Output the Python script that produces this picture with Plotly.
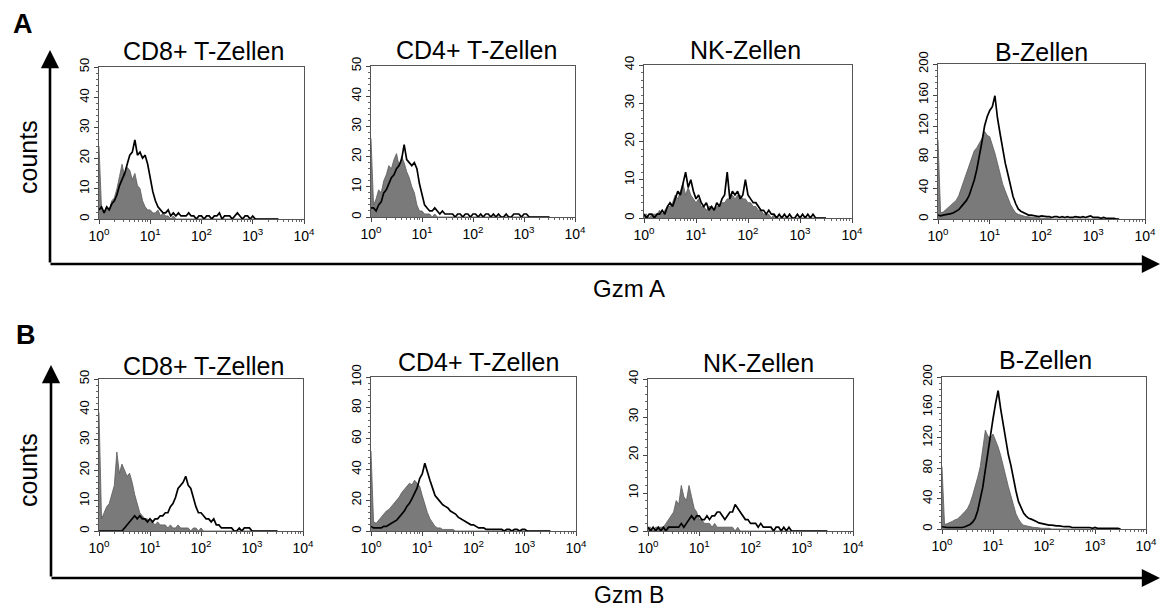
import plotly.graph_objects as go

W, H = 1162, 609

# ---------------- data ----------------
LOG_BINS = [0.00, 0.05, 0.10, 0.15, 0.20, 0.25, 0.30, 0.35, 0.40, 0.45,
            0.50, 0.55, 0.60, 0.65, 0.70, 0.75, 0.80, 0.85, 0.90, 0.95,
            1.00, 1.05, 1.10, 1.15, 1.20, 1.25, 1.30, 1.35, 1.40, 1.45,
            1.50, 1.55, 1.60, 1.65, 1.70, 1.75, 1.80, 1.85, 1.90, 1.95,
            2.00, 2.05, 2.10, 2.15, 2.20, 2.25, 2.30, 2.35, 2.40, 2.45,
            2.50, 2.55, 2.60, 2.65, 2.70, 2.75, 2.80, 2.85, 2.90, 2.95,
            3.00, 3.05, 3.10, 3.15, 3.20, 3.25, 3.30, 3.35, 3.40, 3.45,
            3.50]

TITLES = ["CD8+ T-Zellen", "CD4+ T-Zellen", "NK-Zellen", "B-Zellen",
          "CD8+ T-Zellen", "CD4+ T-Zellen", "NK-Zellen", "B-Zellen"]
Y_MAX = [50, 50, 40, 200, 50, 100, 40, 200]
Y_STEP = [10, 10, 10, 40, 10, 20, 10, 40]
X_TICKVALS = [1, 10, 100, 1000, 10000]
X_TICKTEXT = ["10<sup>0</sup>", "10<sup>1</sup>", "10<sup>2</sup>", "10<sup>3</sup>", "10<sup>4</sup>"]

# Gzm A - control (grey filled)
A_CD8_CTRL = [24, 3, 2, 4, 3, 6, 7, 10, 14, 18,
              14, 17, 16, 13, 15, 11, 10, 6, 4, 3,
              3, 2, 2, 3, 1, 2, 1, 1, 0, 1,
              0, 0, 0, 0, 0, 0, 0, 0, 0, 0,
              0, 0, 0, 0, 0, 0, 0, 0, 0, 0,
              0, 0, 0, 0, 0, 0, 0, 0, 0, 0,
              0, 0, 0, 0, 0, 0, 0, 0, 0, 0,
              0]
A_CD8_GZM = [3, 4, 2, 4, 3, 5, 6, 8, 11, 13,
             15, 18, 21, 22, 26, 21, 22, 20, 21, 18,
             13, 9, 6, 4, 3, 2, 2, 3, 1, 2,
             1, 2, 1, 1, 1, 2, 1, 1, 0, 1,
             1, 0, 1, 1, 0, 1, 1, 2, 0, 1,
             1, 1, 0, 1, 2, 1, 0, 1, 1, 0,
             1, 0, 0, 0, 0, 0, 0, 0, 0, 0,
             0]
A_CD4_CTRL = [26, 4, 6, 9, 8, 12, 14, 17, 16, 19,
              21, 17, 20, 18, 15, 13, 10, 8, 4, 2,
              2, 1, 1, 1, 0, 1, 0, 0, 0, 0,
              0, 0, 0, 0, 0, 0, 0, 0, 0, 0,
              0, 0, 0, 0, 0, 0, 0, 0, 0, 0,
              0, 0, 0, 0, 0, 0, 0, 0, 0, 0,
              0, 0, 0, 0, 0, 0, 0, 0, 0, 0,
              0]
A_CD4_GZM = [3, 3, 2, 4, 5, 8, 9, 11, 13, 14,
             16, 17, 19, 24, 19, 18, 17, 18, 16, 11,
             7, 4, 3, 2, 2, 3, 2, 1, 2, 1,
             1, 1, 1, 0, 1, 1, 0, 1, 1, 0,
             1, 1, 0, 1, 0, 1, 1, 0, 1, 0,
             1, 0, 0, 1, 0, 0, 1, 1, 1, 0,
             1, 1, 0, 0, 0, 0, 0, 0, 0, 0,
             0]
A_NK_CTRL = [1, 1, 0, 1, 1, 1, 2, 1, 2, 3,
             3, 4, 6, 5, 7, 9, 6, 8, 6, 5,
             4, 5, 3, 3, 2, 3, 3, 2, 3, 3,
             4, 4, 5, 5, 6, 5, 6, 6, 5, 5,
             4, 4, 3, 3, 2, 2, 1, 1, 1, 0,
             1, 0, 0, 0, 0, 0, 0, 0, 0, 0,
             0, 0, 0, 0, 0, 0, 0, 0, 0, 0,
             0]
A_NK_GZM = [1, 0, 1, 1, 0, 1, 1, 2, 1, 3,
            4, 3, 5, 7, 6, 9, 12, 8, 10, 7,
            5, 6, 4, 3, 4, 2, 3, 2, 4, 3,
            5, 6, 12, 5, 7, 6, 7, 5, 6, 10,
            6, 5, 4, 4, 3, 2, 2, 1, 2, 1,
            1, 0, 1, 0, 1, 0, 1, 0, 0, 1,
            0, 1, 0, 1, 0, 1, 0, 0, 0, 0,
            0]
A_B_CTRL = [102, 8, 9, 12, 14, 17, 20, 24, 30, 40,
            50, 60, 68, 80, 88, 92, 98, 104, 113, 108,
            106, 96, 85, 72, 58, 45, 36, 26, 19, 13,
            8, 6, 5, 4, 3, 3, 2, 2, 2, 1,
            1, 1, 1, 1, 0, 0, 0, 0, 0, 0,
            0, 0, 0, 0, 0, 0, 0, 0, 0, 0,
            0, 0, 0, 0, 0, 0, 0, 0, 0, 0,
            0]
A_B_GZM = [5, 4, 5, 6, 6, 7, 8, 10, 12, 16,
           20, 24, 30, 40, 50, 64, 80, 100, 120, 132,
           140, 145, 159, 130, 110, 88, 72, 58, 42, 29,
           20, 13, 10, 8, 6, 5, 5, 4, 4, 3,
           4, 3, 3, 3, 2, 3, 3, 2, 3, 2,
           3, 2, 2, 3, 2, 2, 3, 2, 3, 4,
           2, 2, 2, 1, 2, 1, 1, 1, 1, 0,
           0]

# Gzm B
B_CD8_CTRL = [39, 4, 6, 8, 9, 12, 15, 26, 19, 22,
              20, 18, 19, 16, 12, 9, 6, 5, 4, 4,
              3, 3, 2, 3, 2, 2, 2, 1, 2, 1,
              1, 2, 1, 1, 1, 1, 0, 1, 1, 0,
              1, 0, 0, 0, 0, 0, 0, 0, 0, 0,
              0, 0, 0, 0, 0, 0, 0, 0, 0, 0,
              0, 0, 0, 0, 0, 0, 0, 0, 0, 0,
              0]
B_CD8_GZM = [0, 0, 0, 0, 0, 0, 0, 0, 0, 0,
             1, 2, 3, 4, 5, 4, 5, 4, 4, 3,
             4, 3, 4, 4, 5, 5, 6, 6, 8, 9,
             11, 14, 15, 16, 18, 15, 14, 11, 8, 6,
             6, 5, 4, 4, 3, 4, 2, 2, 1, 1,
             1, 1, 1, 0, 0, 1, 0, 1, 1, 1,
             0, 0, 0, 0, 0, 0, 0, 0, 0, 0,
             0]
B_CD4_CTRL = [52, 6, 5, 7, 9, 11, 13, 14, 16, 18,
              20, 22, 25, 27, 29, 31, 30, 33, 31, 29,
              23, 17, 12, 8, 5, 3, 2, 2, 1, 1,
              1, 1, 1, 0, 0, 0, 0, 0, 0, 0,
              0, 0, 0, 0, 0, 0, 0, 0, 0, 0,
              0, 0, 0, 0, 0, 0, 0, 0, 0, 0,
              0, 0, 0, 0, 0, 0, 0, 0, 0, 0,
              0]
B_CD4_GZM = [3, 2, 2, 2, 2, 3, 3, 4, 5, 6,
             7, 9, 11, 13, 16, 18, 21, 25, 28, 34,
             37, 44, 38, 33, 28, 23, 21, 19, 17, 16,
             15, 13, 12, 11, 9, 8, 7, 6, 5, 4,
             4, 3, 2, 2, 2, 1, 1, 1, 1, 1,
             1, 1, 0, 1, 1, 0, 1, 1, 0, 1,
             1, 0, 0, 0, 0, 0, 0, 0, 0, 0,
             0]
B_NK_CTRL = [1, 1, 0, 1, 1, 1, 1, 2, 3, 4,
             5, 8, 7, 12, 9, 8, 12, 9, 6, 5,
             3, 3, 2, 2, 2, 1, 2, 1, 1, 1,
             1, 1, 1, 1, 0, 1, 0, 0, 0, 0,
             0, 0, 0, 0, 0, 0, 0, 0, 0, 0,
             0, 0, 0, 0, 0, 0, 0, 0, 0, 0,
             0, 0, 0, 0, 0, 0, 0, 0, 0, 0,
             0]
B_NK_GZM = [1, 0, 1, 0, 1, 0, 1, 0, 1, 1,
            1, 1, 1, 2, 1, 2, 3, 4, 3, 4,
            4, 3, 3, 4, 3, 4, 4, 5, 5, 4,
            3, 4, 5, 5, 7, 6, 5, 4, 3, 3,
            2, 2, 2, 1, 2, 1, 1, 1, 1, 0,
            1, 1, 0, 1, 0, 1, 0, 0, 0, 0,
            0, 0, 0, 0, 0, 0, 0, 0, 0, 0,
            0]
B_B_CTRL = [82, 6, 7, 8, 10, 12, 13, 16, 19, 23,
            27, 34, 44, 55, 68, 82, 105, 130, 122, 120,
            125, 117, 108, 97, 82, 70, 56, 44, 30, 20,
            13, 8, 5, 4, 3, 3, 2, 2, 1, 1,
            1, 1, 1, 0, 0, 0, 0, 0, 0, 0,
            0, 0, 0, 0, 0, 0, 0, 0, 0, 0,
            0, 0, 0, 0, 0, 0, 0, 0, 0, 0,
            0]
B_B_GZM = [3, 2, 2, 2, 2, 2, 2, 2, 2, 3,
           4, 6, 9, 14, 24, 38, 55, 78, 100, 128,
           145, 165, 182, 158, 136, 115, 98, 84, 66, 50,
           36, 28, 21, 17, 14, 13, 12, 10, 8, 7,
           7, 6, 5, 5, 4, 4, 4, 3, 3, 3,
           3, 2, 2, 2, 2, 2, 2, 2, 2, 1,
           2, 1, 1, 1, 1, 1, 1, 1, 1, 1,
           0]

CTRL_SERIES = [A_CD8_CTRL, A_CD4_CTRL, A_NK_CTRL, A_B_CTRL,
               B_CD8_CTRL, B_CD4_CTRL, B_NK_CTRL, B_B_CTRL]
GZM_SERIES = [A_CD8_GZM, A_CD4_GZM, A_NK_GZM, A_B_GZM,
              B_CD8_GZM, B_CD4_GZM, B_NK_GZM, B_B_GZM]

# ---------------- layout geometry (pixels) ----------------
PANEL_BOXES = [(99, 304, 67, 219), (371, 575, 66, 217), (644, 852, 65, 218), (938, 1145, 64, 219),
               (99, 303, 379, 531), (371, 576, 377, 531), (648, 853, 379, 531), (942, 1146, 377, 529)]
TITLE_POS = [(203, 51), (477, 50), (745, 50), (1041, 52),
             (203, 366), (478, 362), (758, 363), (1045, 360)]

FONT = "Liberation Sans, Arial, Helvetica, sans-serif"


def px(xp):
    return xp / W


def py(yp):
    return 1 - yp / H


x_vals = [10 ** v for v in LOG_BINS]
minor_x = [m * 10 ** d for d in range(4) for m in range(2, 10)]

fig = go.Figure()
layout = dict(
    template="none",
    width=W, height=H, autosize=False,
    margin=dict(l=0, r=0, t=0, b=0, pad=0, autoexpand=False),
    paper_bgcolor="white", plot_bgcolor="white",
    showlegend=False,
    font=dict(family=FONT, color="black"),
)

annotations = []
for i in range(8):
    n = i + 1
    xa = "x" if n == 1 else f"x{n}"
    ya = "y" if n == 1 else f"y{n}"
    l, r, t, b = PANEL_BOXES[i]
    fig.add_trace(go.Scatter(
        x=x_vals, y=CTRL_SERIES[i], mode="lines", xaxis=xa, yaxis=ya,
        fill="tozeroy", fillcolor="#7a7a7a",
        line=dict(color="#5a5a5a", width=0.8),
        hoverinfo="skip"))
    fig.add_trace(go.Scatter(
        x=x_vals, y=GZM_SERIES[i], mode="lines", xaxis=xa, yaxis=ya,
        line=dict(color="black", width=1.7),
        hoverinfo="skip"))
    layout["xaxis" if n == 1 else f"xaxis{n}"] = dict(
        type="log", range=[0, 4], domain=[px(l), px(r)], automargin=False,
        anchor=ya, tickmode="array", tickvals=X_TICKVALS, ticktext=X_TICKTEXT,
        ticks="outside", ticklen=4, tickcolor="#444",
        showline=True, linecolor="#555", linewidth=1, mirror=True,
        showgrid=False, zeroline=False,
        tickfont=dict(family=FONT, size=14, color="black"),
        minor=dict(tickmode="array", tickvals=minor_x, ticks="outside",
                   ticklen=2, tickcolor="#666", showgrid=False),
    )
    ymax, ystep = Y_MAX[i], Y_STEP[i]
    layout["yaxis" if n == 1 else f"yaxis{n}"] = dict(
        range=[0, ymax], domain=[py(b), py(t)], anchor=xa, automargin=False,
        tickmode="linear", tick0=0, dtick=ystep, tickangle=-90,
        ticks="outside", ticklen=4, tickcolor="#444",
        showline=True, linecolor="#555", linewidth=1, mirror=True,
        showgrid=False, zeroline=False,
        tickfont=dict(family=FONT, size=13, color="black"),
        minor=dict(tick0=0, dtick=ystep / 5, ticks="outside",
                   ticklen=2, tickcolor="#666", showgrid=False),
    )
    tx, ty = TITLE_POS[i]
    annotations.append(dict(text=TITLES[i], x=px(tx), y=py(ty), xref="paper", yref="paper",
                            showarrow=False, xanchor="center", yanchor="middle",
                            font=dict(family=FONT, size=25, color="black")))

# row labels, axis captions
for txt, x0, y0 in [("A", 23, 24), ("B", 26, 335)]:
    annotations.append(dict(text=f"<b>{txt}</b>", x=px(x0), y=py(y0), xref="paper", yref="paper",
                            showarrow=False, xanchor="center", yanchor="middle",
                            font=dict(family=FONT, size=27, color="black")))
for y0 in [157, 470]:
    annotations.append(dict(text="counts", x=px(28), y=py(y0), xref="paper", yref="paper",
                            showarrow=False, xanchor="center", yanchor="middle", textangle=-90,
                            font=dict(family=FONT, size=25, color="black")))
annotations.append(dict(text="Gzm A", x=px(629), y=py(288), xref="paper", yref="paper",
                        showarrow=False, xanchor="center", yanchor="middle",
                        font=dict(family=FONT, size=24, color="black")))
annotations.append(dict(text="Gzm B", x=px(629), y=0, xref="paper", yref="paper",
                        showarrow=False, xanchor="center", yanchor="bottom", borderpad=0,
                        font=dict(family=FONT, size=23, color="black")))

# big axis arrows (tail offsets in pixels relative to tip)
for (cx, cy, top) in [(50, 264, 50), (51, 578, 365)]:
    annotations.append(dict(text="", x=px(cx), y=py(top), ax=0, ay=cy - top,
                            xref="paper", yref="paper", axref="pixel", ayref="pixel",
                            showarrow=True, arrowhead=2, arrowsize=1.4, arrowwidth=2.6,
                            arrowcolor="black"))
    annotations.append(dict(text="", x=px(1160), y=py(cy), ax=(cx - 1) - 1160, ay=0,
                            xref="paper", yref="paper", axref="pixel", ayref="pixel",
                            showarrow=True, arrowhead=2, arrowsize=1.4, arrowwidth=2.6,
                            arrowcolor="black"))

layout["annotations"] = annotations
fig.update_layout(**layout)
fig.write_html("out.html", config={"displayModeBar": False, "staticPlot": True},
               post_script="document.body.style.margin='0';document.body.style.overflow='hidden';")
